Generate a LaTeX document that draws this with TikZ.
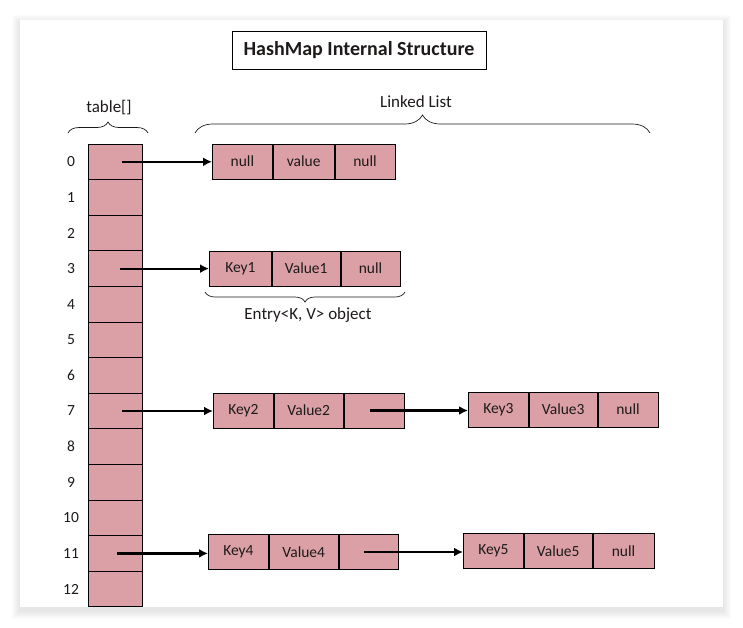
\documentclass[tikz,border=0pt]{standalone}
\usepackage{fontspec}
\setmainfont{Carlito}
\usetikzlibrary{arrows.meta}
\usetikzlibrary{decorations.pathreplacing}
\definecolor{cellpink}{RGB}{218,160,165}
\definecolor{inkgray}{RGB}{30,26,26}

\tikzset{
	cell/.style={draw, line width=0.8pt, fill=cellpink, minimum width=54pt, minimum height=35.6pt, inner sep=0pt},
	field/.style={draw, line width=0.8pt, fill=cellpink, minimum height=35pt, inner sep=0pt, anchor=west, text=inkgray, font=\fontsize{15.5}{18}\selectfont},
	idx/.style={text=inkgray, font=\fontsize{15.5}{18}\selectfont},
	lbl/.style={text=inkgray, font=\fontsize{17}{20}\selectfont},
	link/.style={line width=2.2pt, -{Latex[length=9pt,width=9pt]}},
	curly/.style={decorate, draw=inkgray, line width=0.7pt}
}

\begin{document}
\begin{tikzpicture}[x=1pt, y=-1pt]
		\useasboundingbox (0,0) rectangle (743,627);
		% card and its shadow
		\foreach \s in {1,...,8}
			\fill[black, opacity=0.012] (20-\s,20-\s+3) rectangle (723+\s,607+\s+4);
		\fill[white] (20,20) rectangle (723,607);

		\node[draw, line width=0.8pt, minimum width=254pt, minimum height=38pt, font=\fontsize{20}{24}\selectfont\bfseries, text=inkgray] (title) at (359,50) {HashMap Internal Structure};

		% the bucket array
		\begin{scope}
			\clip (20,20) rectangle (723,606);
			\foreach \i in {0,...,12}
				\node[cell] (t\i) at (115,161.8+35.6*\i) {};
		\end{scope}
		\foreach \i in {0,...,12}
			\node[idx] (n\i) at (71,161.8+35.6*\i) {\i};

		\node[lbl] (tablelbl) at (109,108) {table[]};
		\draw[curly, decoration={brace, amplitude=11pt}] (68,133) -- (148,133);
		\node[lbl] (listlbl) at (416,102) {Linked List};
		\draw[curly, decoration={brace, amplitude=18pt}] (195,133) -- (650,133);

		% bucket 0
		\node[field, minimum width=60pt] (e0k) at (212,161.5) {null};
		\node[field, minimum width=61pt] (e0v) at (e0k.east) {value};
		\node[field, minimum width=60pt] (e0n) at (e0v.east) {null};

		% bucket 3
		\node[field, minimum width=62pt] (e3k) at (209,268.5) {Key1};
		\node[field, minimum width=68pt] (e3v) at (e3k.east) {Value1};
		\node[field, minimum width=59pt] (e3n) at (e3v.east) {null};
		\draw[curly, decoration={brace, mirror, amplitude=10pt}] (205,292) -- (405,292);
		\node[lbl] (entrylbl) at (308,315) {Entry<K, V> object};

		% bucket 7
		\node[field, minimum width=60pt] (e7k) at (213,410.5) {Key2};
		\node[field, minimum width=69pt] (e7v) at (e7k.east) {Value2};
		\node[field, minimum width=60pt] (e7n) at (e7v.east) {};
		\node[field, minimum width=60pt] (f7k) at (468,409.5) {Key3};
		\node[field, minimum width=68pt] (f7v) at (f7k.east) {Value3};
		\node[field, minimum width=60pt] (f7n) at (f7v.east) {null};

		% bucket 11
		\node[field, minimum width=60pt] (e11k) at (208,552) {Key4};
		\node[field, minimum width=69pt] (e11v) at (e11k.east) {Value4};
		\node[field, minimum width=59pt] (e11n) at (e11v.east) {};
		\node[field, minimum width=60pt] (f11k) at (463,551) {Key5};
		\node[field, minimum width=68pt] (f11v) at (f11k.east) {Value5};
		\node[field, minimum width=61pt] (f11n) at (f11v.east) {null};

		% links
		\draw[link] ([xshift=7pt]t0.center) -- (t0 -| e0k.west);
		\draw[link] ([xshift=5pt]t3.center) -- (t3 -| e3k.west);
		\draw[link] ([xshift=7pt]t7.center) -- (t7 -| e7k.west);
		\draw[link] ([xshift=2pt]t11.center) -- (t11 -| e11k.west);
		\draw[link] ([xshift=-4pt]e7n.center) -- (e7n -| f7k.west);
		\draw[link] ([xshift=-5pt]e11n.center) -- (e11n -| f11k.west);
	\end{tikzpicture}
\end{document}
